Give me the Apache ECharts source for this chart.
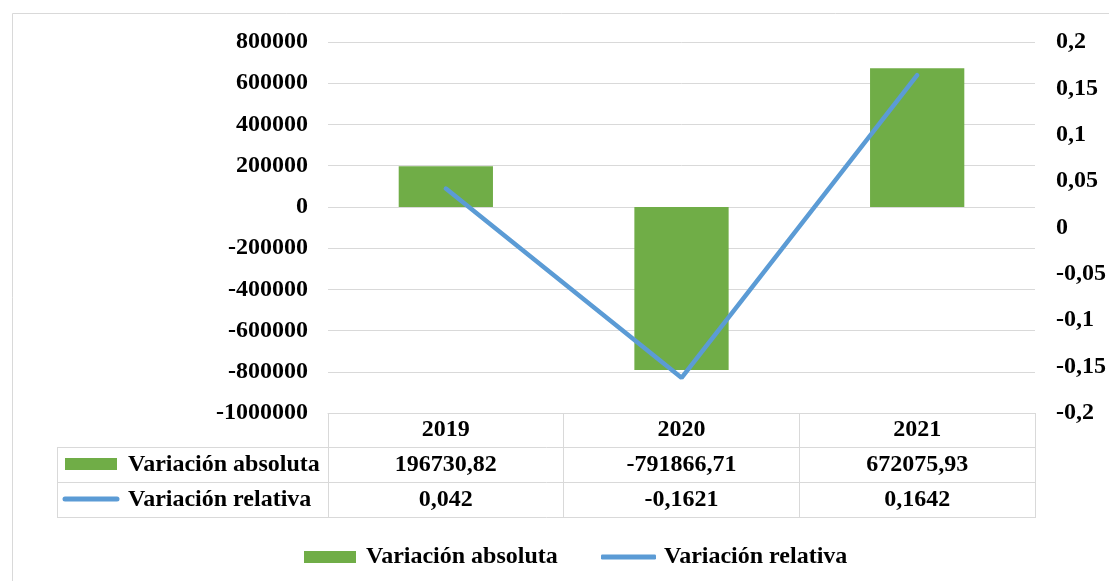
<!DOCTYPE html>
<html>
<head>
<meta charset="utf-8">
<script src="https://cdn.jsdelivr.net/npm/echarts@6/dist/echarts.min.js"></script>
<style>
  html, body { margin: 0; padding: 0; background: #fff; }
  #main { width: 1109px; height: 581px; }
</style>
</head>
<body>
<div id="main"></div>
<script>
// datos
var years = ['2019', '2020', '2021'];
var absVals = [196730.82, -791866.71, 672075.93];
var relVals = [0.042, -0.1621, 0.1642];
var leftTicks = { min: -1000000, max: 800000, interval: 200000 };
var rightTicks = { min: -0.2, max: 0.2, interval: 0.05 };

var FONT = '"Liberation Serif", "Times New Roman", serif';
var GREEN = '#70AD47';
var BLUE = '#5B9BD5';
var GRAY = '#d9d9d9';

function comma(v) {
  return String(v).replace('.', ',');
}

var txt = { fontFamily: FONT, fontWeight: 'bold', fontSize: 24, color: '#000' };

var myChart = echarts.init(document.getElementById('main'));
var option = {
  backgroundColor: '#fff',
  animation: false,
  grid: { left: 328, right: 73, top: 42, bottom: 168 },
  legend: [
    {
      data: ['Variación absoluta'],
      left: 299, top: 540,
      itemWidth: 52, itemHeight: 12,
      icon: 'rect',
      textStyle: Object.assign({ padding: [0, 0, 0, 5] }, txt)
    },
    {
      data: ['Variación relativa'],
      left: 596, top: 540,
      itemWidth: 55, itemHeight: 5,
      icon: 'roundRect',
      textStyle: Object.assign({ padding: [0, 0, 0, 3] }, txt)
    }
  ],
  xAxis: [
    {
      type: 'category',
      data: years,
      position: 'bottom',
      axisLine: { show: true, onZero: false, lineStyle: { color: GRAY, width: 1 } },
      axisTick: { show: true, length: 104, lineStyle: { color: GRAY, width: 1 } },
      axisLabel: Object.assign({ margin: 5 }, txt)
    },
    {
      type: 'category',
      data: years,
      position: 'bottom',
      offset: 35,
      axisLine: { show: false, onZero: false },
      axisTick: { show: false },
      axisLabel: Object.assign({
        margin: 5,
        formatter: function (v, i) { return comma(absVals[i]); }
      }, txt)
    },
    {
      type: 'category',
      data: years,
      position: 'bottom',
      offset: 70,
      axisLine: { show: false, onZero: false },
      axisTick: { show: false },
      axisLabel: Object.assign({
        margin: 5,
        formatter: function (v, i) { return comma(relVals[i]); }
      }, txt)
    }
  ],
  yAxis: [
    {
      type: 'value',
      min: leftTicks.min, max: leftTicks.max, interval: leftTicks.interval,
      axisLine: { show: false },
      axisTick: { show: false },
      splitLine: { show: true, lineStyle: { color: GRAY, width: 1 } },
      axisLabel: Object.assign({
        margin: 20,
        formatter: function (v) { return String(v); }
      }, txt)
    },
    {
      type: 'value',
      position: 'right',
      min: rightTicks.min, max: rightTicks.max, interval: rightTicks.interval,
      axisLine: { show: false },
      axisTick: { show: false },
      splitLine: { show: false },
      axisLabel: Object.assign({
        margin: 21,
        formatter: function (v) { return comma(Number(v.toFixed(2))); }
      }, txt)
    }
  ],
  series: [
    {
      name: 'Variación absoluta',
      type: 'bar',
      xAxisIndex: 0,
      yAxisIndex: 0,
      barWidth: '40%',
      itemStyle: { color: GREEN },
      data: absVals
    },
    {
      name: 'Variación relativa',
      type: 'line',
      xAxisIndex: 0,
      yAxisIndex: 1,
      showSymbol: false,
      symbol: 'none',
      itemStyle: { color: BLUE },
      lineStyle: { color: BLUE, width: 4.5, cap: 'round' },
      z: 5,
      data: relVals
    }
  ],
  graphic: [
    // marco exterior
    { type: 'rect', shape: { x: 12.5, y: 13.5, width: 1200, height: 700 }, style: { fill: 'none', stroke: GRAY, lineWidth: 1 }, silent: true },
    // tabla de datos
    { type: 'line', shape: { x1: 57, y1: 447.5, x2: 1036, y2: 447.5 }, style: { stroke: GRAY, lineWidth: 1 } },
    { type: 'line', shape: { x1: 57, y1: 482.5, x2: 1036, y2: 482.5 }, style: { stroke: GRAY, lineWidth: 1 } },
    { type: 'line', shape: { x1: 57, y1: 517.5, x2: 1036, y2: 517.5 }, style: { stroke: GRAY, lineWidth: 1 } },
    { type: 'line', shape: { x1: 57.5, y1: 447, x2: 57.5, y2: 518 }, style: { stroke: GRAY, lineWidth: 1 } },
    { type: 'rect', shape: { x: 65, y: 458, width: 52, height: 12 }, style: { fill: GREEN } },
    { type: 'line', shape: { x1: 65, y1: 499, x2: 117, y2: 499 }, style: { stroke: BLUE, lineWidth: 5, lineCap: 'round' } },
    { type: 'text', x: 128, y: 465, style: { text: 'Variación absoluta', verticalAlign: 'middle', fill: '#000', font: 'bold 24px ' + FONT } },
    { type: 'text', x: 128, y: 500, style: { text: 'Variación relativa', verticalAlign: 'middle', fill: '#000', font: 'bold 24px ' + FONT } }
  ]
};
myChart.setOption(option);
</script>
</body>
</html>
